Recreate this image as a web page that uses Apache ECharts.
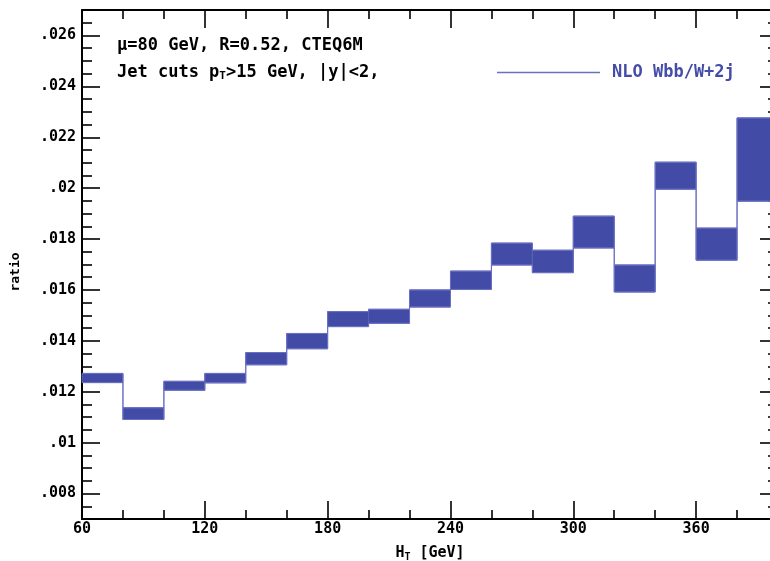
<!DOCTYPE html>
<html>
<head>
<meta charset="utf-8" />
<title>NLO Wbb/W+2j ratio</title>
<style>
  html, body { margin: 0; padding: 0; background: #fff; }
  #chart { width: 770px; height: 561px; }
</style>
<script src="https://cdn.jsdelivr.net/npm/echarts@6/dist/echarts.min.js"></script>
</head>
<body>
<div id="chart"></div>
<script>
// bin edges of the H_T histogram (GeV)
var binEdges = [60, 80, 100, 120, 140, 160, 180, 200, 220, 240, 260, 280, 300, 320, 340, 360, 380, 400];
// lower / upper edge of the scale band in each bin
var bandLow  = [0.01236, 0.01091, 0.01206, 0.01235, 0.01306, 0.01369, 0.01456, 0.01469, 0.01533,
                0.01602, 0.01698, 0.01668, 0.01765, 0.01592, 0.01996, 0.01717, 0.01949];
var bandHigh = [0.01272, 0.01137, 0.01241, 0.01272, 0.01354, 0.01429, 0.01515, 0.01524, 0.01600,
                0.01674, 0.01784, 0.01756, 0.01890, 0.01698, 0.02102, 0.01843, 0.02276];

// tick labels
var xTickValues = [60, 120, 180, 240, 300, 360];
var xTickLabels = ['60', '120', '180', '240', '300', '360'];
var yTickValues = [0.008, 0.010, 0.012, 0.014, 0.016, 0.018, 0.020, 0.022, 0.024, 0.026];
var yTickLabels = ['.008', '.01', '.012', '.014', '.016', '.018', '.02', '.022', '.024', '.026'];

var seriesName = 'NLO Wbb/W+2j';
var FONT = '"DejaVu Sans Mono", "Liberation Mono", monospace';

// minor ticks: every bin edge on x, every .0005 on y
var xMinor = binEdges.filter(function (v) { return xTickValues.indexOf(v) < 0 && v < 400; });
var yMinor = [];
for (var k = 15; k <= 53; k++) {
    var v = Math.round(k * 5) / 10000;
    var isMajor = yTickValues.some(function (t) { return Math.abs(t - v) < 1e-9; });
    if (!isMajor) yMinor.push(v);
}

function lookup(values, labels, v) {
    for (var i = 0; i < values.length; i++) {
        if (Math.abs(values[i] - v) < 1e-9) return labels[i];
    }
    return '';
}

function axis(dim, pos, ticks, len, withLabels, withLine) {
    var a = {
        type: 'value',
        position: pos,
        min: dim === 'x' ? 60 : 0.007,
        max: dim === 'x' ? 400 : 0.027,
        splitLine: { show: false },
        axisLine: { show: withLine, onZero: false, lineStyle: { color: '#000', width: 2 } },
        axisTick: { show: true, inside: true, length: len, customValues: ticks,
                    lineStyle: { color: '#000', width: 1.6 } },
        axisLabel: { show: false }
    };
    if (withLabels) {
        a.axisLabel = {
            show: true,
            customValues: ticks,
            margin: dim === 'x' ? 3 : 6,
            color: '#000',
            fontFamily: FONT,
            fontWeight: 'bold',
            fontSize: 15,
            formatter: function (val) {
                return dim === 'x' ? lookup(xTickValues, xTickLabels, val)
                                   : lookup(yTickValues, yTickLabels, val);
            }
        };
    }
    return a;
}

var xAxes = [
    axis('x', 'bottom', xTickValues, 18, true, true),
    axis('x', 'bottom', xMinor, 9, false, false),
    axis('x', 'top', xTickValues, 18, false, true),
    axis('x', 'top', xMinor, 9, false, false)
];
xAxes[0].name = '{n|H}{s|T}{n| [GeV]}';
xAxes[0].nameLocation = 'middle';
xAxes[0].nameGap = 25;
xAxes[0].nameTextStyle = {
    rich: {
        n: { fontFamily: FONT, fontWeight: 'bold', fontSize: 15, color: '#000' },
        s: { fontFamily: FONT, fontWeight: 'bold', fontSize: 10, color: '#000', padding: [8, 0, 0, 0] }
    }
};

var yAxes = [
    axis('y', 'left', yTickValues, 18, true, true),
    axis('y', 'left', yMinor, 10, false, false),
    axis('y', 'right', yTickValues, 18, false, true),
    axis('y', 'right', yMinor, 10, false, false)
];

function stepData(vals) {
    var d = vals.map(function (y, i) { return [binEdges[i], y]; });
    d.push([binEdges[binEdges.length - 1], vals[vals.length - 1]]);
    return d;
}

var bandData = bandLow.map(function (lo, i) {
    return [binEdges[i], binEdges[i + 1], lo, bandHigh[i]];
});

var option = {
    animation: false,
    backgroundColor: '#fff',
    grid: { left: 82, top: 10, width: 696, height: 509, containLabel: false, outerBoundsMode: 'none' },
    title: {
        left: 112,
        top: 27,
        text: '{n|\u03bc=80 GeV, R=0.52, CTEQ6M}\n{n|Jet cuts p}{s|T}{n|>15 GeV, |y|<2,}',
        textStyle: {
            lineHeight: 27,
            rich: {
                n: { fontFamily: FONT, fontWeight: 'bold', fontSize: 17, color: '#000', lineHeight: 27 },
                s: { fontFamily: FONT, fontWeight: 'bold', fontSize: 11, color: '#000', lineHeight: 27, padding: [8, 0, 0, 0] }
            }
        }
    },
    legend: {
        left: 492,
        top: 59,
        data: [{ name: seriesName, icon: 'rect' }],
        itemWidth: 103,
        itemHeight: 1.5,
        selectedMode: false,
        textStyle: { color: '#444ca8', fontFamily: FONT, fontWeight: 'bold', fontSize: 17, padding: [0, 0, 0, 7] }
    },
    graphic: [{
        type: 'text',
        x: 16,
        y: 272,
        rotation: Math.PI / 2,
        style: { text: 'ratio', font: 'bold 13px ' + FONT, fill: '#000', align: 'center', verticalAlign: 'middle' }
    }],
    xAxis: xAxes,
    yAxis: yAxes,
    series: [
        {
            name: seriesName,
            type: 'line',
            step: 'end',
            data: stepData(bandHigh),
            symbol: 'none',
            itemStyle: { color: '#6a70c2' },
            lineStyle: { color: '#6a70c2', width: 1 }
        },
        {
            name: 'lower',
            type: 'line',
            step: 'end',
            data: stepData(bandLow),
            symbol: 'none',
            itemStyle: { color: '#6a70c2' },
            lineStyle: { color: '#6a70c2', width: 1 }
        },
        {
            name: 'band',
            type: 'custom',
            data: bandData,
            encode: { x: [0, 1], y: [2, 3] },
            renderItem: function (params, api) {
                var p0 = api.coord([api.value(0), api.value(3)]);
                var p1 = api.coord([api.value(1), api.value(2)]);
                return {
                    type: 'rect',
                    shape: { x: p0[0], y: p0[1], width: p1[0] - p0[0], height: p1[1] - p0[1] },
                    style: { fill: '#424ca6', stroke: '#5a61b6', lineWidth: 1 }
                };
            }
        }
    ]
};

var chart = echarts.init(document.getElementById('chart'));
chart.setOption(option);
</script>
</body>
</html>
